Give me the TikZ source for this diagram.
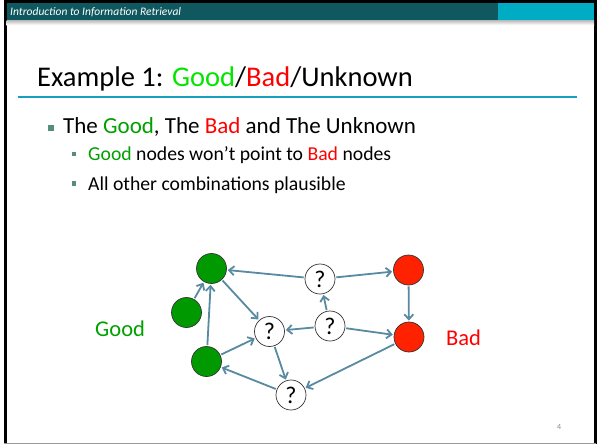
\documentclass[tikz,border=0pt]{standalone}
\usepackage{fontspec}
\setmainfont{Carlito}
\usetikzlibrary{arrows.meta}
\definecolor{hdrdark}{RGB}{15,88,96}
\definecolor{hdrcyan}{RGB}{0,172,196}
\definecolor{rulecyan}{RGB}{22,160,190}
\definecolor{bulletc}{RGB}{88,140,125}
\definecolor{edgec}{RGB}{88,138,160}
\definecolor{goodlime}{RGB}{0,230,0}
\definecolor{goodgreen}{RGB}{0,160,0}
\definecolor{nodegreen}{RGB}{0,153,0}
\definecolor{badred}{RGB}{255,0,0}
\definecolor{nodered}{RGB}{255,34,0}
\tikzset{
  txt/.style={anchor=base west, inner sep=0pt},
  goodnode/.style={circle, draw=black!80, line width=0.7pt, fill=nodegreen, minimum size=30pt, inner sep=0pt},
  badnode/.style={circle, draw=black!80, line width=0.7pt, fill=nodered, minimum size=30pt, inner sep=0pt},
  unknode/.style={circle, draw=black!80, line width=0.7pt, fill=white, minimum size=30pt, inner sep=0pt,
    font=\fontsize{24}{26}\selectfont},
  edge/.style={draw=edgec, line width=1.8pt, -{Straight Barb[length=5pt,width=9pt]}, shorten >=1pt, shorten <=1pt},
  bulletsq/.style={fill=bulletc},
}
\begin{document}
\begin{tikzpicture}[x=1pt,y=-1pt]
\useasboundingbox (0,0) rectangle (597,447);
\fill[white] (0,0) rectangle (597,447);
% slide frame
\draw[black, line width=3pt] (5,444) -- (5,1.5) -- (595.5,1.5) -- (595.5,444);
\draw[black!40, line width=1.5pt] (4,443.5) -- (596,443.5);
% header bar
\fill[hdrdark] (6.5,3) rectangle (498,20.5);
\fill[hdrcyan] (498,3) rectangle (594,20.5);
\shade[top color=black!25, bottom color=white] (6.5,20.5) rectangle (594,25);
\node[txt, white, font=\fontsize{11.5}{13}\selectfont\itshape] (hdr) at (10,16) {Introduction to Information Retrieval};
% title
\node[txt, font=\fontsize{28.5}{30}\selectfont] (title) at (37,86)
  {Example 1: \textcolor{goodlime}{Good}/\textcolor{badred}{Bad}/Unknown};
\draw[rulecyan, line width=2pt] (18,97) -- (577,97);
% bullets
\fill[bulletsq] (47.5,124.5) rectangle (53.5,130.5);
\node[txt, font=\fontsize{23}{26}\selectfont] (b1) at (63,133)
  {The \textcolor{goodgreen}{Good}, The \textcolor{badred}{Bad} and The Unknown};
\fill[bulletsq] (71.5,151.5) rectangle (76,156);
\node[txt, font=\fontsize{19.7}{22}\selectfont] (b2) at (88,160)
  {\textcolor{goodgreen}{Good} nodes won’t point to \textcolor{badred}{Bad} nodes};
\fill[bulletsq] (71.5,181) rectangle (76,185.5);
\node[txt, font=\fontsize{19.7}{22}\selectfont] (b3) at (88,190)
  {All other combinations plausible};
% graph
\node[goodnode] (g1) at (211.5,268.5) {};
\node[goodnode] (g2) at (186.5,312.5) {};
\node[goodnode] (g3) at (206.5,361.5) {};
\node[badnode] (r1) at (408.5,270) {};
\node[badnode] (r2) at (409,337) {};
\node[unknode] (q1) at (320,279) {?};
\node[unknode] (q2) at (330,326) {?};
\node[unknode] (q3) at (269.5,331.5) {?};
\node[unknode] (q4) at (291,395) {?};
\draw[edge] (q1) -- (g1);
\draw[edge] (q1) -- (r1);
\draw[edge] (r1) -- (r2);
\draw[edge] (g2) -- (g1);
\draw[edge] (g3) -- (g1);
\draw[edge] (g1) -- (q3);
\draw[edge] (q2) -- (q1);
\draw[edge] (q2) -- (q3);
\draw[edge] (q2) -- (r2);
\draw[edge] (g3) -- (q3);
\draw[edge] (q4) -- (g3);
\draw[edge] (q3) -- (q4);
\draw[edge] (r2) -- (q4);
\node[txt, font=\fontsize{22.5}{24}\selectfont, text=goodgreen] (goodlbl) at (95,336) {Good};
\node[txt, font=\fontsize{22.5}{24}\selectfont, text=badred] (badlbl) at (446,345) {Bad};
% page number
\node[txt, text=black!45, font=\fontsize{8}{9}\selectfont] (pg) at (557,429) {4};
\end{tikzpicture}
\end{document}
